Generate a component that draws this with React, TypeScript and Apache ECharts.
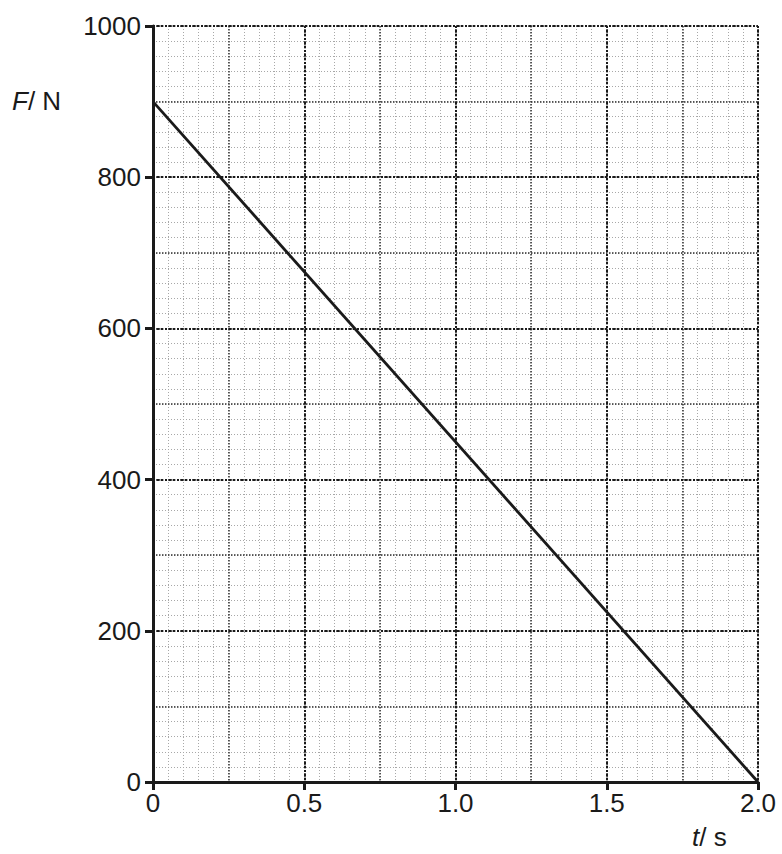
import React, { useEffect, useRef } from "react";
import * as echarts from "echarts";

const tValues = [0, 2.0];
const fValues = [900, 0];
const xTickValues = [0, 0.5, 1.0, 1.5, 2.0];
const yTickValues = [0, 200, 400, 600, 800, 1000];
const yLabel = "F";
const yUnit = "N";
const xLabel = "t";
const xUnit = "s";

const FONT = "'Liberation Sans', Arial, Helvetica, sans-serif";

export default function App() {
  const ref = useRef<HTMLDivElement>(null);
  useEffect(() => {
    if (!ref.current) return;
    const chart = echarts.init(ref.current, null, { renderer: "svg" });
    const gridCfg = { left: 153, right: 24, top: 26, bottom: 72 };
    const hiddenX = (interval: number, style: any, z: number) => ({
      type: "value",
      min: 0,
      max: 2,
      interval,
      z,
      axisLine: { show: false },
      axisTick: { show: false },
      axisLabel: { show: false },
      splitLine: { show: true, lineStyle: style },
    });
    const hiddenY = (interval: number, style: any, z: number) => ({
      type: "value",
      min: 0,
      max: 1000,
      interval,
      z,
      axisLine: { show: false },
      axisTick: { show: false },
      axisLabel: { show: false },
      splitLine: { show: true, lineStyle: style },
    });
    const minorStyle = { color: "#a8a8a8", width: 1, type: [1, 2] };
    const midStyle = { color: "#333", width: 1.5, type: [1.5, 1.5] };
    const majorStyle = { color: "#1a1a1a", width: 2, type: [2, 2] };
    chart.setOption({
      animation: false,
      grid: gridCfg,
      xAxis: [
        {
          type: "value",
          min: xTickValues[0],
          max: xTickValues[xTickValues.length - 1],
          interval: 0.5,
          z: 5,
          axisLine: { show: true, onZero: false, lineStyle: { color: "#1a1a1a", width: 3 } },
          axisTick: { show: true, inside: false, length: 8, lineStyle: { color: "#1a1a1a", width: 3 } },
          axisLabel: {
            color: "#1a1a1a",
            fontSize: 26,
            fontFamily: FONT,
            margin: 8,
            formatter: (v: number) => (v === 0 ? "0" : v.toFixed(1)),
          },
          splitLine: { show: true, lineStyle: majorStyle },
        },
        hiddenX(0.25, midStyle, 2),
        hiddenX(0.05, minorStyle, 1),
      ],
      yAxis: [
        {
          type: "value",
          min: yTickValues[0],
          max: yTickValues[yTickValues.length - 1],
          interval: 200,
          z: 5,
          axisLine: { show: true, onZero: false, lineStyle: { color: "#1a1a1a", width: 3 } },
          axisTick: { show: true, inside: false, length: 8, lineStyle: { color: "#1a1a1a", width: 3 } },
          axisLabel: {
            color: "#1a1a1a",
            fontSize: 26,
            fontFamily: FONT,
            margin: 12,
            formatter: (v: number) => String(v),
          },
          splitLine: { show: true, lineStyle: majorStyle },
        },
        hiddenY(100, midStyle, 2),
        hiddenY(20, minorStyle, 1),
      ],
      series: [
        {
          type: "line",
          xAxisIndex: 0,
          yAxisIndex: 0,
          z: 10,
          data: tValues.map((t, i) => [t, fValues[i]]),
          symbol: "none",
          lineStyle: { color: "#1a1a1a", width: 2.8 },
        },
      ],
      graphic: [
        {
          type: "text",
          left: 12,
          top: 88,
          style: {
            text: `{i|${yLabel}}{n|/ ${yUnit}}`,
            rich: {
              i: { fontStyle: "italic", fontSize: 26, fontFamily: FONT, fill: "#1a1a1a" },
              n: { fontSize: 26, fontFamily: FONT, fill: "#1a1a1a" },
            },
          },
        },
        {
          type: "text",
          left: 692,
          top: 824,
          style: {
            text: `{i|${xLabel}}{n|/ ${xUnit}}`,
            rich: {
              i: { fontStyle: "italic", fontSize: 26, fontFamily: FONT, fill: "#1a1a1a" },
              n: { fontSize: 26, fontFamily: FONT, fill: "#1a1a1a" },
            },
          },
        },
      ],
    });
    return () => chart.dispose();
  }, []);
  return (
    <div
      ref={ref}
      style={{ position: "fixed", left: 0, top: 0, width: 782, height: 854, background: "#fff" }}
    />
  );
}
